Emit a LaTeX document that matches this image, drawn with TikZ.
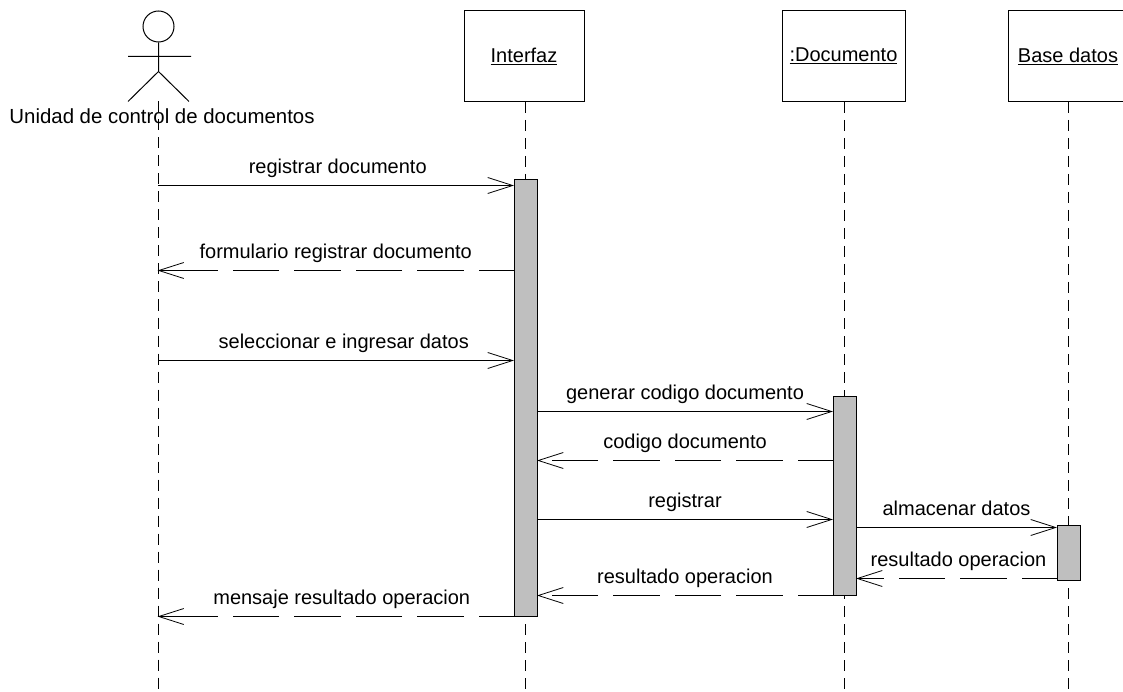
\documentclass[tikz,border=0pt]{standalone}
\usepackage{fontspec}
\setmainfont{Liberation Sans}
\usetikzlibrary{arrows.meta, positioning}

\tikzset{
	object/.style = {draw, line width=1pt, minimum width=120pt, minimum height=91pt, inner sep=0pt, font=\fontsize{20}{24}\selectfont},
	bar/.style = {draw, line width=1pt, fill=black!25, minimum width=23pt, inner sep=0pt},
	lifeline/.style = {line width=1pt, dash pattern=on 11pt off 7pt},
	call/.style = {line width=1pt, shorten >=-0.5pt, -{Straight Barb[length=25pt, width=16pt, line width=0.8pt]}},
	reply/.style = {call, dash pattern=on 46.5pt off 15pt, dash phase=11.5pt},
	longreply/.style = {call, dash pattern=on 46.5pt off 15pt on 46.5pt off 15pt on 46.5pt off 15pt on 46.5pt off 15pt on 46.5pt off 15pt on 61pt off 15pt, dash phase=11.5pt},
	msg/.style = {anchor=base, yshift=12pt, inner sep=0pt, font=\fontsize{20}{24}\selectfont},
}

\begin{document}
\begin{tikzpicture}[x=1pt, y=-1pt]
	\useasboundingbox (0,-0.5) rectangle (1123,691.5);

	% objects
	\node (interfaz) [object] at (524,55.5) {\underline{Interfaz}};
	\node (documento) [object, minimum width=123pt] at (843.5,55.5) {\underline{:Documento}};
	\node (base) [object] at (1068,55.5) {\underline{Base datos}};

	% actor
	\node (head) [draw, circle, line width=1pt, minimum size=31pt, inner sep=0pt] at (158.5,26) {};
	\coordinate (hip) at (158.5,71);
	\coordinate (armL) at (128,56);
	\coordinate (armR) at (191,56);
	\coordinate (legL) at (128,101);
	\coordinate (legR) at (189,101);
	\coordinate (unidad) at (158,101);
	\draw [line width=1pt] (head) -- (hip) (armL) -- (armR) (legL) -- (hip) -- (legR);
	\node (actor) [msg, yshift=-12pt, font=\fontsize{20.4}{24}\selectfont] at (162,123) {Unidad de control de documentos};

	% lifelines
	\coordinate (endU) at (158,692);
	\coordinate (endI) at (525,692);
	\coordinate (endD) at (844,692);
	\coordinate (endB) at (1068,692);
	\draw [lifeline] (unidad) -- (endU);
	\draw [lifeline] (interfaz.south -| endI) -- (endI);
	\draw [lifeline] (documento.south -| endD) -- (endD);
	\draw [lifeline] (base.south -| endB) -- (endB);

	% activations
	\node (barI) [bar, minimum height=437pt] at (525.5,397.5) {};
	\node (barD) [bar, minimum height=199pt] at (844.5,495.5) {};
	\node (barB) [bar, minimum height=55pt] at (1068.5,552.5) {};

	% messages
	\coordinate (m1) at (158,185);
	\coordinate (m2) at (158,270);
	\coordinate (m3) at (158,360);
	\coordinate (m4) at (158,616);
	\coordinate (g1) at (844,411);
	\coordinate (g2) at (844,460);
	\coordinate (g3) at (844,519);
	\coordinate (g4) at (844,595);
	\coordinate (a1) at (1068,527);
	\coordinate (a2) at (1068,578);

	\draw [call] (m1) -- node [msg, xshift=2pt] {registrar documento} (m1 -| barI.west);
	\draw [longreply] (m2 -| barI.west) -- node [msg, xshift=0pt] {formulario registrar documento} (m2);
	\draw [call] (m3) -- node [msg, xshift=8pt] {seleccionar e ingresar datos} (m3 -| barI.west);
	\draw [call] (g1 -| barI.east) -- node [msg] {generar codigo documento} (g1 -| barD.west);
	\draw [reply] (g2 -| barD.west) -- node [msg] {codigo documento} (g2 -| barI.east);
	\draw [call] (g3 -| barI.east) -- node [msg] {registrar} (g3 -| barD.west);
	\draw [call] (a1 -| barD.east) -- node [msg] {almacenar datos} (a1 -| barB.west);
	\draw [reply] (a2 -| barB.west) -- node [msg, xshift=2pt] {resultado operacion} (a2 -| barD.east);
	\draw [reply] (g4 -| barD.west) -- node [msg] {resultado operacion} (g4 -| barI.east);
	\draw [longreply] (m4 -| barI.west) -- node [msg, xshift=6pt] {mensaje resultado operacion} (m4);
\end{tikzpicture}
\end{document}
